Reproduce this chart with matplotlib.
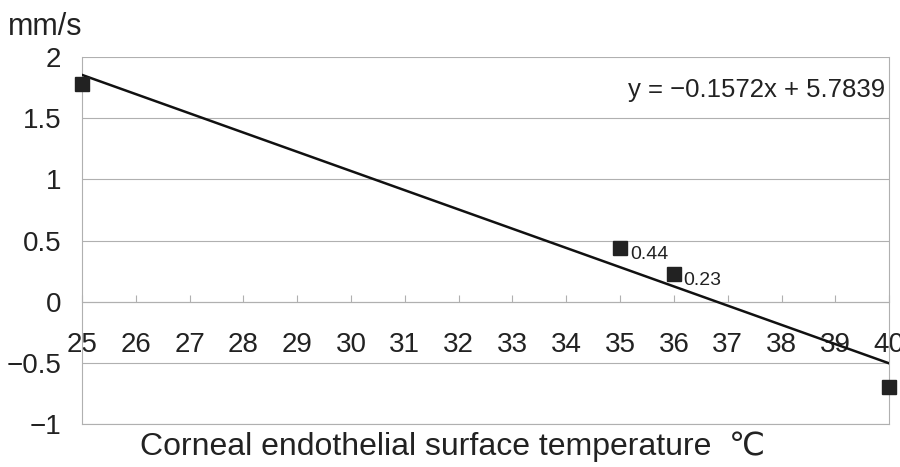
import matplotlib
matplotlib.use("Agg")
import numpy as np
import matplotlib.pyplot as plt

# data
temps = [25, 35, 36, 40]
speeds = [1.78, 0.44, 0.23, -0.70]
point_labels = ["", "0.44", "0.23", ""]
slope, intercept = -0.1572, 5.7839
x_ticks = list(range(25, 41))
y_ticks = [-1, -0.5, 0, 0.5, 1, 1.5, 2]

plt.rcParams["font.family"] = ["Liberation Sans", "DejaVu Sans"]

fig = plt.figure(figsize=(9, 4.67), dpi=100)
ax = fig.add_axes([0.091, 0.092, 0.897, 0.786])

grey = "#b0b0b0"
ink = "#222222"
ax.set_xlim(25, 40)
ax.set_ylim(-1, 2)
ax.set_yticks(y_ticks)
ax.set_yticklabels(["\u22121", "\u22120.5", "0", "0.5", "1", "1.5", "2"])
ax.yaxis.grid(True, color=grey, linewidth=0.8)
ax.axhline(-1, color=grey, linewidth=0.8, clip_on=False)
ax.set_axisbelow(True)

for s in ("left", "right"):
    ax.spines[s].set_color(grey)
    ax.spines[s].set_linewidth(0.8)
ax.spines["top"].set_visible(False)
ax.spines["bottom"].set_position(("data", 0))
ax.spines["bottom"].set_color(grey)
ax.spines["bottom"].set_linewidth(0.8)

ax.set_xticks(x_ticks)
ax.tick_params(axis="x", direction="in", length=5, color=grey, pad=22,
               labelsize=20, labelcolor=ink)
ax.tick_params(axis="y", length=0, pad=15, labelsize=20, labelcolor=ink)

# trend line
xs = np.array([25, 40])
ax.plot(xs, slope * xs + intercept, color="#111111", linewidth=1.8, zorder=3)

ax.plot(temps, speeds, linestyle="none", marker="s", markersize=10,
        color=ink, clip_on=False, zorder=4)
for t, v, lab in zip(temps, speeds, point_labels):
    if lab:
        ax.annotate(lab, (t, v), xytext=(7, -5), textcoords="offset points",
                    fontsize=14, color=ink, va="center")

ax.text(39.93, 1.73, "y = \u22120.1572x + 5.7839", ha="right", va="center",
        fontsize=18.5, color=ink)

fig.text(0.009, 0.942, "mm/s", fontsize=22, color=ink, va="center")
fig.text(0.503, 0.043, "Corneal endothelial surface temperature  \u2103",
         fontsize=23, color=ink, ha="center", va="center")

fig.savefig("out.png", dpi=100)
